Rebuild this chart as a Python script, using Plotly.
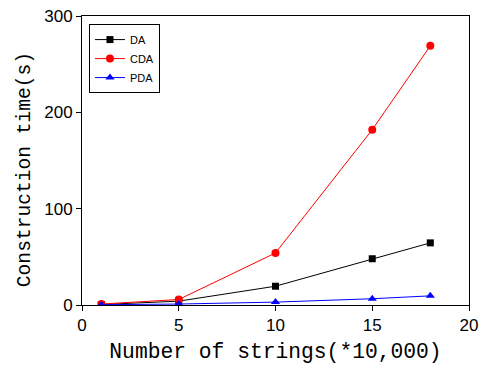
import plotly.graph_objects as go

# Number of strings (in units of 10,000)
n_strings = [1, 5, 10, 15, 18]

# Construction time in seconds for each method
da_time = [0.5, 4, 19.5, 48, 64.5]
cda_time = [1, 5.7, 54, 182, 269]
pda_time = [0.3, 1, 3, 6.5, 9.5]

series = [
    ("DA", da_time, "black", "square"),
    ("CDA", cda_time, "red", "circle"),
    ("PDA", pda_time, "blue", "triangle-up"),
]

fig = go.Figure()
for name, vals, color, symbol in series:
    fig.add_trace(go.Scatter(
        x=n_strings, y=vals, name=name, mode="lines+markers",
        line=dict(color=color, width=1),
        marker=dict(color=color, symbol=symbol, size=8 if symbol != "square" else 7),
    ))

axis_common = dict(
    showline=True, linecolor="black", linewidth=1, mirror=True,
    ticks="outside", ticklen=5, tickcolor="black", tickwidth=1,
    showgrid=False, zeroline=False, automargin=False,
    tickfont=dict(family="Liberation Sans, Arial", size=17, color="black"),
)

mono = "Liberation Mono, monospace"

fig.update_layout(
    width=480, height=368,
    margin=dict(l=82, r=11, t=16, b=63),
    plot_bgcolor="white", paper_bgcolor="white",
    xaxis=dict(
        range=[0, 20], tickvals=[0, 5, 10, 15, 20],
        title=dict(text="Number of strings(*10,000)",
                   font=dict(family=mono, size=21.3, color="black"), standoff=8),
        **axis_common,
    ),
    yaxis=dict(
        range=[0, 300], tickvals=[0, 100, 200, 300],
        **axis_common,
    ),
    annotations=[dict(
        text="Construction time(s)", textangle=-90,
        xref="paper", yref="paper", x=-0.147, y=0.467,
        xanchor="center", yanchor="middle", showarrow=False,
        font=dict(family=mono, size=19.6, color="black"),
    )],
    legend=dict(
        x=0.018, y=0.972, xanchor="left", yanchor="top",
        bordercolor="black", borderwidth=1, bgcolor="white",
        font=dict(family="Liberation Sans, Arial", size=11, color="black"),
        tracegroupgap=0, itemwidth=30,
    ),
    showlegend=True,
)

fig.write_html("out.html")
